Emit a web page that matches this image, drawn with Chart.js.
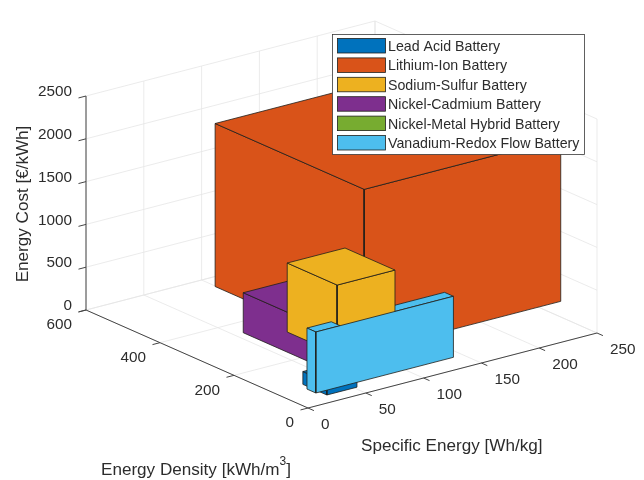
<!DOCTYPE html>
<html>
<head>
<meta charset="utf-8">
<title>Battery technologies</title>
<script src="https://cdn.jsdelivr.net/npm/chart.js@4"></script>
<style>
  html, body { margin: 0; padding: 0; background: #fff; }
  canvas { display: block; }
</style>
</head>
<body>
<canvas id="myChart" width="644" height="480"></canvas>
<script>
const batteryNames = [
    'Lead Acid Battery',
    'Lithium-Ion Battery',
    'Sodium-Sulfur Battery',
    'Nickel-Cadmium Battery',
    'Nickel-Metal Hybrid Battery',
    'Vanadium-Redox Flow Battery',
];
const batteryColours = ['#0072BD', '#D95319', '#EDB120', '#7E2F8E', '#77AC30', '#4DBEEE'];

// ranges: specific energy, energy density, energy cost
const energyLow = [25, 80, 31, 40, 50, 10];
const energyHigh = [51, 250, 81, 90, 70, 129];
const densityLow = [27, 98, 18, 20, 60, 10];
const densityHigh = [92, 501, 153, 300, 100, 34];
const costLow = [13, 183, 487, 167, 600, 121];
const costHigh = [163, 2087, 1293, 634, 800, 834];

const xTicks = [0, 50, 100, 150, 200, 250];
const yTicks = [0, 200, 400, 600];
const zTicks = [0, 500, 1000, 1500, 2000, 2500];

const xMax = 250, yMax = 600, zMax = 2500;

// orthographic view of the 3d box on the flat chart plane
function project(x, y, z) {
    return {
        x: 308 + x * 289 / xMax - y * 222 / yMax,
        y: 408 - x * 75 / xMax - y * 98 / yMax - z * 214 / zMax,
    };
}

const datasets = [];

function addPath(corners, options) {
    datasets.push(Object.assign({
        data: corners.map(c => project(c[0], c[1], c[2])),
        showLine: true,
        pointRadius: 0,
        tension: 0,
        fill: false,
        clip: false,
        order: -datasets.length,
    }, options));
}

function addGrid(from, to) {
    addPath([from, to], { borderColor: '#e6e6e6', borderWidth: 0.8 });
}

function addAxis(from, to) {
    addPath([from, to], { borderColor: '#444444', borderWidth: 1 });
}

function addFace(i, corners) {
    corners.push(corners[0]);
    addPath(corners, {
        borderColor: '#20201c',
        borderWidth: 0.8,
        backgroundColor: batteryColours[i],
        fill: 'shape',
    });
}

// the three faces of a box that look at the viewer
function faceLeft(i) {
    const x = energyLow[i], y0 = densityLow[i], y1 = densityHigh[i], z0 = costLow[i], z1 = costHigh[i];
    addFace(i, [[x, y0, z0], [x, y1, z0], [x, y1, z1], [x, y0, z1]]);
}
function faceFront(i) {
    const y = densityLow[i], x0 = energyLow[i], x1 = energyHigh[i], z0 = costLow[i], z1 = costHigh[i];
    addFace(i, [[x0, y, z0], [x1, y, z0], [x1, y, z1], [x0, y, z1]]);
}
function faceTop(i, xTo) {
    const z = costHigh[i], x0 = energyLow[i], x1 = xTo === undefined ? energyHigh[i] : xTo, y0 = densityLow[i], y1 = densityHigh[i];
    addFace(i, [[x0, y0, z], [x1, y0, z], [x1, y1, z], [x0, y1, z]]);
}
function wholeBox(i) {
    faceLeft(i);
    faceFront(i);
    faceTop(i);
}

// walls and floor
zTicks.forEach(z => {
    addGrid([0, yMax, z], [xMax, yMax, z]);
    addGrid([xMax, yMax, z], [xMax, 0, z]);
});
xTicks.forEach(x => {
    addGrid([x, yMax, 0], [x, yMax, zMax]);
    addGrid([x, 0, 0], [x, yMax, 0]);
});
yTicks.forEach(y => {
    addGrid([xMax, y, 0], [xMax, y, zMax]);
    addGrid([0, y, 0], [xMax, y, 0]);
});

// axis lines and tick marks
addAxis([0, yMax, 0], [0, yMax, zMax]);
addAxis([0, yMax, 0], [0, 0, 0]);
addAxis([0, 0, 0], [xMax, 0, 0]);
zTicks.forEach(z => addAxis([0, yMax, z], [-6.5, yMax, z]));
yTicks.forEach(y => addAxis([0, y, 0], [-6.5, y, 0]));
xTicks.forEach(x => addAxis([x, 0, 0], [x, -16, 0]));

// boxes back to front, the yellow one cuts through the top of the flow battery
const LITHIUM = 1, SODIUM = 2, CADMIUM = 3, HYBRID = 4, LEAD = 0, VANADIUM = 5;
wholeBox(LITHIUM);
wholeBox(CADMIUM);
wholeBox(HYBRID);
wholeBox(LEAD);
faceTop(VANADIUM);
wholeBox(SODIUM);
faceTop(VANADIUM, energyLow[SODIUM]);
faceLeft(VANADIUM);
faceFront(VANADIUM);

const textColour = '#2c2c2c';
const tickFont = '15.3px "Liberation Sans", Arial, sans-serif';
const titleFont = '17.1px "Liberation Sans", Arial, sans-serif';
const legendFont = '14.2px "Liberation Sans", Arial, sans-serif';

const axisText = {
    id: 'axisText',
    afterDraw(chart) {
        const ctx = chart.ctx;
        const sx = chart.scales.x, sy = chart.scales.y;
        const at = (x, y, z) => {
            const p = project(x, y, z);
            return { x: sx.getPixelForValue(p.x), y: sy.getPixelForValue(p.y) };
        };
        ctx.save();
        ctx.fillStyle = textColour;
        ctx.font = tickFont;
        ctx.textBaseline = 'middle';

        ctx.textAlign = 'right';
        zTicks.forEach(z => {
            const p = at(0, yMax, z);
            ctx.fillText(String(z), p.x - 14, p.y - 4);
        });
        yTicks.forEach(y => {
            const p = at(0, y, 0);
            ctx.fillText(String(y), p.x - 14, p.y + 15);
        });
        ctx.textAlign = 'left';
        xTicks.forEach(x => {
            const p = at(x, 0, 0);
            ctx.fillText(String(x), p.x + 13, p.y + 17);
        });

        // axis titles
        ctx.font = titleFont;
        ctx.fillText('Specific Energy [Wh/kg]', 361, 446);
        ctx.fillText('Energy Density [kWh/m', 101, 470);
        const w = ctx.measureText('Energy Density [kWh/m').width;
        ctx.font = '12px "Liberation Sans", Arial, sans-serif';
        ctx.fillText('3', 101 + w, 462);
        const w3 = ctx.measureText('3').width;
        ctx.font = titleFont;
        ctx.fillText(']', 101 + w + w3, 470);

        ctx.save();
        ctx.translate(23, 204);
        ctx.rotate(-Math.PI / 2);
        ctx.textAlign = 'center';
        ctx.fillText('Energy Cost [€/kWh]', 0, 0);
        ctx.restore();

        // legend
        ctx.fillStyle = '#ffffff';
        ctx.fillRect(332.5, 34.5, 252, 120);
        ctx.strokeStyle = '#3a3a3a';
        ctx.lineWidth = 0.8;
        ctx.strokeRect(332.5, 34.5, 252, 120);
        ctx.font = legendFont;
        ctx.textAlign = 'left';
        batteryNames.forEach((name, i) => {
            const top = 38.5 + i * 19.4;
            ctx.fillStyle = batteryColours[i];
            ctx.fillRect(337.5, top, 48, 14.5);
            ctx.strokeStyle = '#20201c';
            ctx.strokeRect(337.5, top, 48, 14.5);
            ctx.fillStyle = textColour;
            ctx.fillText(name, 388, top + 8.5);
        });
        ctx.restore();
    },
};

const myChart = new Chart(document.getElementById('myChart').getContext('2d'), {
    type: 'scatter',
    data: { datasets: datasets },
    options: {
        responsive: false,
        animation: false,
        layout: { padding: 0 },
        scales: {
            x: { type: 'linear', min: 0, max: 644, display: false },
            y: { type: 'linear', min: 0, max: 480, reverse: true, display: false },
        },
        plugins: {
            legend: { display: false },
            tooltip: { enabled: false },
        },
    },
    plugins: [axisText],
});
</script>
</body>
</html>
